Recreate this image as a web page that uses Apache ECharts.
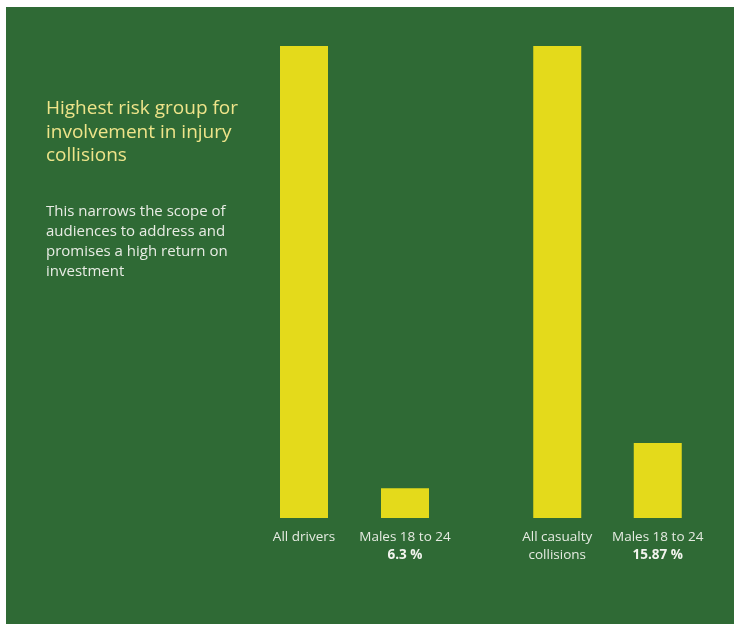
<!DOCTYPE html>
<html>
<head>
<meta charset="utf-8">
<script src="https://cdn.jsdelivr.net/npm/echarts@6/dist/echarts.min.js"></script>
<style>
  html, body { margin: 0; padding: 0; background: #ffffff; }
  #main { width: 734px; height: 632px; }
</style>
</head>
<body>
<div id="main"></div>
<script>
// data
var driverCats = ['All drivers', 'Males 18 to 24'];
var driverVals = [100, 6.3];
var driverShare = ['', '6.3 %'];
var collisionCats = ['All casualty\ncollisions', 'Males 18 to 24'];
var collisionVals = [100, 15.87];
var collisionShare = ['', '15.87 %'];

var titleText = 'Highest risk group for\ninvolvement in injury\ncollisions';
var bodyText = 'This narrows the scope of\naudiences to address and\npromises a high return on\ninvestment';

var FONT = '"Open Sans", "Noto Sans", sans-serif';
var GREEN = '#2f6a35';
var YELLOW = '#e4da1b';

function labelFn(shares) {
  return function (v, i) {
    var s = shares[i];
    return s ? v + '\n{b|' + s + '}' : v;
  };
}

function xAxisFor(cats, shares, gi) {
  return {
    type: 'category',
    gridIndex: gi,
    data: cats,
    axisLine: { show: false },
    axisTick: { show: false },
    axisLabel: {
      interval: 0,
      margin: 10,
      color: '#e6ebe2',
      fontFamily: FONT,
      fontSize: 13.5,
      lineHeight: 18,
      formatter: labelFn(shares),
      rich: {
        b: { fontWeight: 'bold', color: '#f2f4ee', fontFamily: FONT, fontSize: 13.5, lineHeight: 18 }
      }
    }
  };
}

function yAxisFor(gi) {
  return {
    type: 'value',
    gridIndex: gi,
    min: 0,
    max: 100,
    show: false,
    splitLine: { show: false }
  };
}

var myChart = echarts.init(document.getElementById('main'));

var option = {
  backgroundColor: '#ffffff',
  animation: false,
  graphic: [
    { type: 'rect', z: -10, shape: { x: 6, y: 7, width: 728, height: 617 }, style: { fill: GREEN } },
    {
      type: 'text', left: 46, top: 97,
      style: { text: titleText, fill: '#eee48a', font: '19px ' + FONT, lineHeight: 23.5 }
    },
    {
      type: 'text', left: 46, top: 202,
      style: { text: bodyText, fill: '#e8ece4', font: '15px ' + FONT, lineHeight: 20 }
    }
  ],
  grid: [
    { left: 253.5, width: 202, top: 46, height: 472 },
    { left: 507, width: 201, top: 46, height: 472 }
  ],
  xAxis: [xAxisFor(driverCats, driverShare, 0), xAxisFor(collisionCats, collisionShare, 1)],
  yAxis: [yAxisFor(0), yAxisFor(1)],
  series: [
    {
      type: 'bar', xAxisIndex: 0, yAxisIndex: 0,
      data: driverVals, barWidth: 48,
      itemStyle: { color: YELLOW }
    },
    {
      type: 'bar', xAxisIndex: 1, yAxisIndex: 1,
      data: collisionVals, barWidth: 48,
      itemStyle: { color: YELLOW }
    }
  ]
};

myChart.setOption(option);
</script>
</body>
</html>
